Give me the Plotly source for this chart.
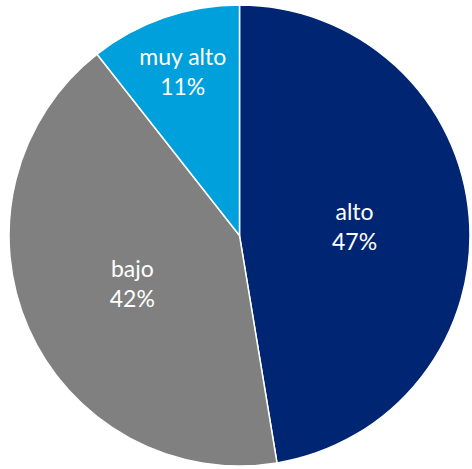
import plotly.graph_objects as go

categories = ["alto", "bajo", "muy alto"]
values = [47.4, 42.0, 10.6]
colors = ["#002673", "#808080", "#00A0DC"]

fig = go.Figure(go.Pie(
    labels=categories,
    values=values,
    sort=False,
    direction="clockwise",
    rotation=0,
    marker=dict(colors=colors, line=dict(color="white", width=1.5)),
    texttemplate="%{label}<br>%{percent:.0%}",
    textposition="inside",
    insidetextorientation="horizontal",
    textfont=dict(color="white", size=23, family="Lato"),
    domain=dict(x=[8/472, 471/472], y=[1-466/469, 1-5/469]),
    showlegend=False,
    hoverinfo="label+percent",
))
fig.update_layout(
    width=472, height=469,
    margin=dict(l=0, r=0, t=0, b=0),
    paper_bgcolor="white",
)
fig.write_html("out.html", config={"displayModeBar": False})

with open("out.html", "r", encoding="utf-8") as f:
    html = f.read()
html = html.replace("<head>", "<head><style>html,body{margin:0;padding:0;overflow:hidden;}</style>", 1)
with open("out.html", "w", encoding="utf-8") as f:
    f.write(html)
